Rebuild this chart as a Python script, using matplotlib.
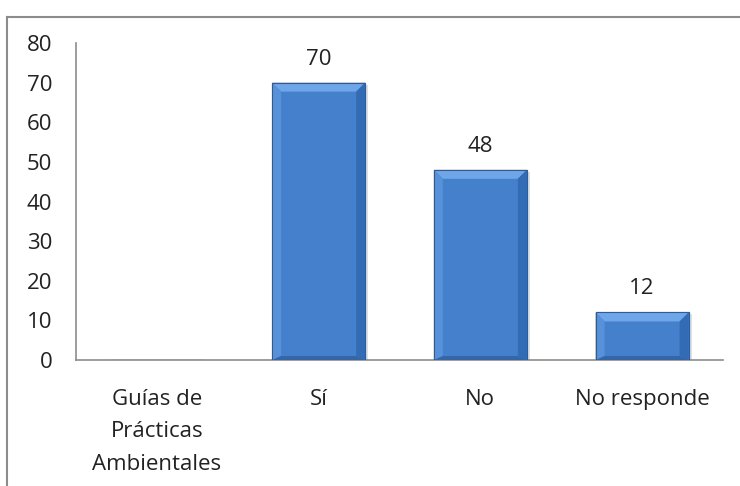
import matplotlib
matplotlib.use("Agg")
import matplotlib.pyplot as plt
from matplotlib.patches import Polygon
from matplotlib.lines import Line2D
from matplotlib.transforms import IdentityTransform

categories = ["Guías de\nPrácticas\nAmbientales", "Sí", "No", "No responde"]
values = [0, 70, 48, 12]
yticks = [0, 10, 20, 30, 40, 50, 60, 70, 80]

plt.rcParams['font.family'] = ['Open Sans', 'DejaVu Sans']
fig = plt.figure(figsize=(7.4, 4.86), dpi=100)
ax = fig.add_axes([76/740, 1-360/486, (723-76)/740, (360-43)/486])

x = list(range(len(categories)))
bw = 0.575
face = '#4580CC'
bars = ax.bar(x, values, width=bw, color=face, edgecolor='#2E5C97', linewidth=0.8, zorder=3)

fs = 16
ax.set_xlim(-0.5, len(categories)-0.5)
ax.set_ylim(0, 80)
ax.set_yticks(yticks)
ax.set_xticks(x)
ax.set_xticklabels(categories, linespacing=1.7)
ax.tick_params(axis='both', length=0, labelsize=fs, colors='#222222')
ax.tick_params(axis='y', pad=17)
ax.tick_params(axis='x', pad=21)
for s in ['top', 'right']:
    ax.spines[s].set_visible(False)
for s in ['left', 'bottom']:
    ax.spines[s].set_color('#8C8C8C')
    ax.spines[s].set_linewidth(1.2)

fig.canvas.draw()
bev = 9
for b, v in zip(bars, values):
    if v <= 0:
        continue
    (x0, y0), (x1, y1) = ax.transData.transform([(b.get_x(), 0), (b.get_x()+b.get_width(), v)])
    # shadow
    ax.add_patch(Polygon([(x0+2, y0-3), (x1+3, y0-3), (x1+3, y1-2), (x1, y1-2), (x1, y0), (x0+2, y0)],
                         closed=True, transform=IdentityTransform(), facecolor='#000000', alpha=0.12,
                         edgecolor='none', zorder=2))
    bb = 4
    top = [(x0, y1), (x1, y1), (x1-bev, y1-bev), (x0+bev, y1-bev)]
    left = [(x0, y1), (x0+bev, y1-bev), (x0+bev, y0+bb), (x0, y0)]
    right = [(x1, y1), (x1-bev, y1-bev), (x1-bev, y0+bb), (x1, y0)]
    bottom = [(x0, y0), (x0+bev, y0+bb), (x1-bev, y0+bb), (x1, y0)]
    for poly, col in [(top, '#6FA6EA'), (left, '#5791DA'), (right, '#336BB5'), (bottom, '#3566A8')]:
        ax.add_patch(Polygon(poly, closed=True, transform=IdentityTransform(), facecolor=col,
                             edgecolor='none', zorder=4))
    ax.add_patch(Polygon([(x0, y0), (x0, y1), (x1, y1), (x1, y0)], closed=True,
                         transform=IdentityTransform(), facecolor='none', edgecolor='#2E5C97',
                         linewidth=0.8, zorder=5))
    ax.annotate(str(v), (b.get_x()+b.get_width()/2, v), xytext=(0, 17), textcoords='offset points',
                ha='center', va='center', fontsize=fs, color='#222222')

# outer chart border (top and left visible)
fig.add_artist(Line2D([7/740, 7/740], [0, 1-17/486], transform=fig.transFigure, color='#8C8C8C', linewidth=1.5))
fig.add_artist(Line2D([7/740, 1], [1-17/486, 1-17/486], transform=fig.transFigure, color='#8C8C8C', linewidth=1.5))

fig.savefig("out.png", dpi=100)
